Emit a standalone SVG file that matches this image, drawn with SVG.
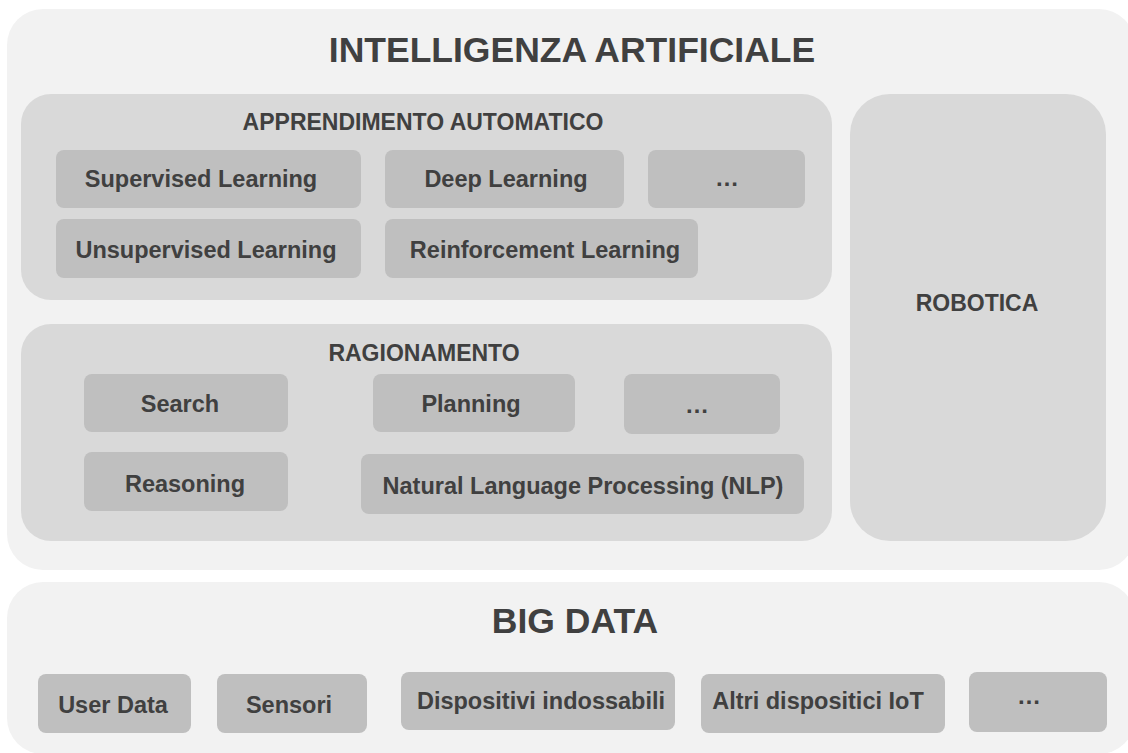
<svg xmlns="http://www.w3.org/2000/svg" width="1128" height="753" viewBox="0 0 1128 753">
  <style>
    .outer { fill: #f2f2f2; }
    .group { fill: #d9d9d9; }
    .item { fill: #bfbfbf; }
    text { font-family: "Liberation Sans", Arial, sans-serif; font-weight: bold; fill: #404040; text-anchor: middle; }
    .title { font-size: 35.5px; }
    .head { font-size: 23px; }
    .label { font-size: 23.5px; }
    .more { font-size: 24px; }
  </style>
  <rect width="1128" height="753" fill="#ffffff"/>

  <!-- Artificial intelligence block -->
  <g id="ai">
    <rect class="outer" x="7" y="9" width="1128" height="561" rx="36"/>
    <text class="title" x="572" y="62">INTELLIGENZA ARTIFICIALE</text>
  </g>

  <!-- Machine learning group -->
  <g id="ml">
    <rect class="group" x="21" y="94" width="811" height="206" rx="30"/>
    <text class="head" x="423" y="130">APPRENDIMENTO AUTOMATICO</text>
  </g>
  <g id="ml-supervised">
    <rect class="item" x="56" y="150" width="305" height="58" rx="8"/>
    <text class="label" x="201" y="187">Supervised Learning</text>
  </g>
  <g id="ml-deep">
    <rect class="item" x="385" y="150" width="239" height="58" rx="8"/>
    <text class="label" x="506" y="187">Deep Learning</text>
  </g>
  <g id="ml-more">
    <rect class="item" x="648" y="150" width="157" height="58" rx="8"/>
    <text class="more" x="727" y="186">…</text>
  </g>
  <g id="ml-unsupervised">
    <rect class="item" x="56" y="219" width="305" height="59" rx="8"/>
    <text class="label" x="206" y="258">Unsupervised Learning</text>
  </g>
  <g id="ml-reinforcement">
    <rect class="item" x="385" y="219" width="313" height="59" rx="8"/>
    <text class="label" x="545" y="258">Reinforcement Learning</text>
  </g>

  <!-- Reasoning group -->
  <g id="reasoning">
    <rect class="group" x="21" y="324" width="811" height="217" rx="30"/>
    <text class="head" x="424" y="361">RAGIONAMENTO</text>
  </g>
  <g id="r-search">
    <rect class="item" x="84" y="374" width="204" height="58" rx="8"/>
    <text class="label" x="180" y="412">Search</text>
  </g>
  <g id="r-planning">
    <rect class="item" x="373" y="374" width="202" height="58" rx="8"/>
    <text class="label" x="471" y="412">Planning</text>
  </g>
  <g id="r-more">
    <rect class="item" x="624" y="374" width="156" height="60" rx="8"/>
    <text class="more" x="697" y="413">…</text>
  </g>
  <g id="r-reasoning">
    <rect class="item" x="84" y="452" width="204" height="59" rx="8"/>
    <text class="label" x="185" y="492">Reasoning</text>
  </g>
  <g id="r-nlp">
    <rect class="item" x="361" y="454" width="443" height="60" rx="8"/>
    <text class="label" x="583" y="494">Natural Language Processing (NLP)</text>
  </g>

  <!-- Robotics -->
  <g id="robotics">
    <rect class="group" x="850" y="94" width="256" height="447" rx="40"/>
    <text class="head" x="977" y="311">ROBOTICA</text>
  </g>

  <!-- Big data block -->
  <g id="bigdata">
    <rect class="outer" x="7" y="582" width="1128" height="172" rx="36"/>
    <text class="title" x="575" y="633">BIG DATA</text>
  </g>
  <g id="bd-user">
    <rect class="item" x="38" y="674" width="153" height="59" rx="8"/>
    <text class="label" x="113" y="713">User Data</text>
  </g>
  <g id="bd-sensors">
    <rect class="item" x="217" y="674" width="150" height="59" rx="8"/>
    <text class="label" x="289" y="713">Sensori</text>
  </g>
  <g id="bd-wearables">
    <rect class="item" x="401" y="672" width="274" height="58" rx="8"/>
    <text class="label" x="541" y="709">Dispositivi indossabili</text>
  </g>
  <g id="bd-iot">
    <rect class="item" x="701" y="674" width="244" height="59" rx="8"/>
    <text class="label" x="818" y="709">Altri dispositici IoT</text>
  </g>
  <g id="bd-more">
    <rect class="item" x="969" y="672" width="138" height="60" rx="8"/>
    <text class="more" x="1029" y="704">…</text>
  </g>

  <!-- No connectors in this diagram -->
  <g id="connectors"/>
</svg>
